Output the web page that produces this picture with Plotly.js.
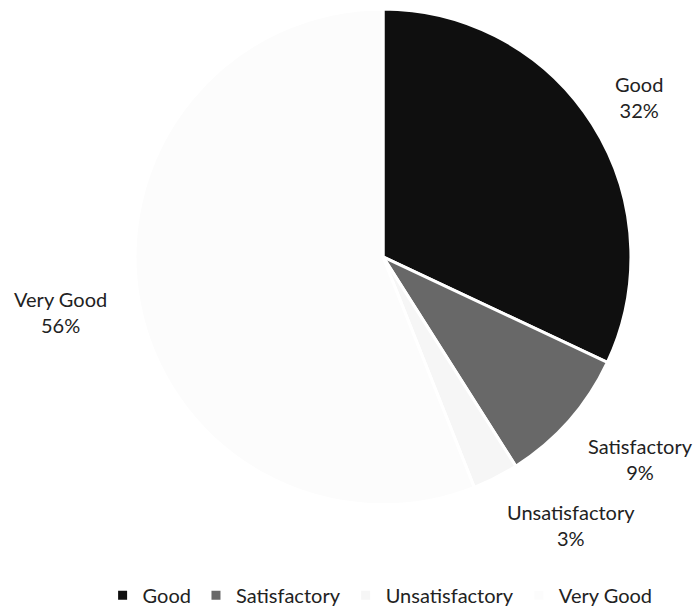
<!DOCTYPE html>
<html>
<head>
<meta charset="utf-8">
<script src="https://cdn.plot.ly/plotly-3.0.1.min.js"></script>
<style>html,body{margin:0;padding:0;background:#fff;}</style>
</head>
<body>
<div id="chart" style="width:698px;height:615px;"></div>
<script>
const categories = ["Good", "Satisfactory", "Unsatisfactory", "Very Good"];
const values = [32, 9, 3, 56];
const sliceColors = ["#0f0f0f", "#686868", "#f6f6f6", "#fcfcfc"];

// label anchor positions (paper fractions), layout only
const labelX = [0.915, 0.918, 0.818, 0.086];
const labelY = [0.841, 0.247, 0.140, 0.489];

const total = values.reduce((a, b) => a + b, 0);
const percentText = values.map(v => Math.round(v / total * 100) + "%");

const trace = {
  type: "pie",
  labels: categories,
  values: values,
  sort: false,
  direction: "clockwise",
  rotation: 0,
  domain: {x: [0.1905, 0.9069], y: [0.1724, 0.9854]},
  marker: {colors: sliceColors, line: {color: "#ffffff", width: 3}},
  textinfo: "none",
  hoverinfo: "label+percent",
  showlegend: true
};

const annotations = categories.map((c, i) => ({
  xref: "paper", yref: "paper",
  x: labelX[i], y: labelY[i],
  xanchor: "center", yanchor: "middle",
  text: c + "<br>" + percentText[i],
  showarrow: false,
  align: "center",
  font: {family: "Lato, sans-serif", size: 20, color: "#222222"}
}));

const layout = {
  width: 698,
  height: 615,
  margin: {l: 0, r: 0, t: 0, b: 0},
  paper_bgcolor: "#ffffff",
  font: {family: "Lato, sans-serif", size: 20, color: "#222222"},
  showlegend: true,
  annotations: annotations,
  legend: {
    orientation: "h",
    x: 0.147, xanchor: "left",
    y: 0.024, yanchor: "middle",
    font: {family: "Lato, sans-serif", size: 20, color: "#222222"},
    itemwidth: 30
  }
};

Plotly.newPlot("chart", [trace], layout, {displayModeBar: false, staticPlot: true});
</script>
</body>
</html>
